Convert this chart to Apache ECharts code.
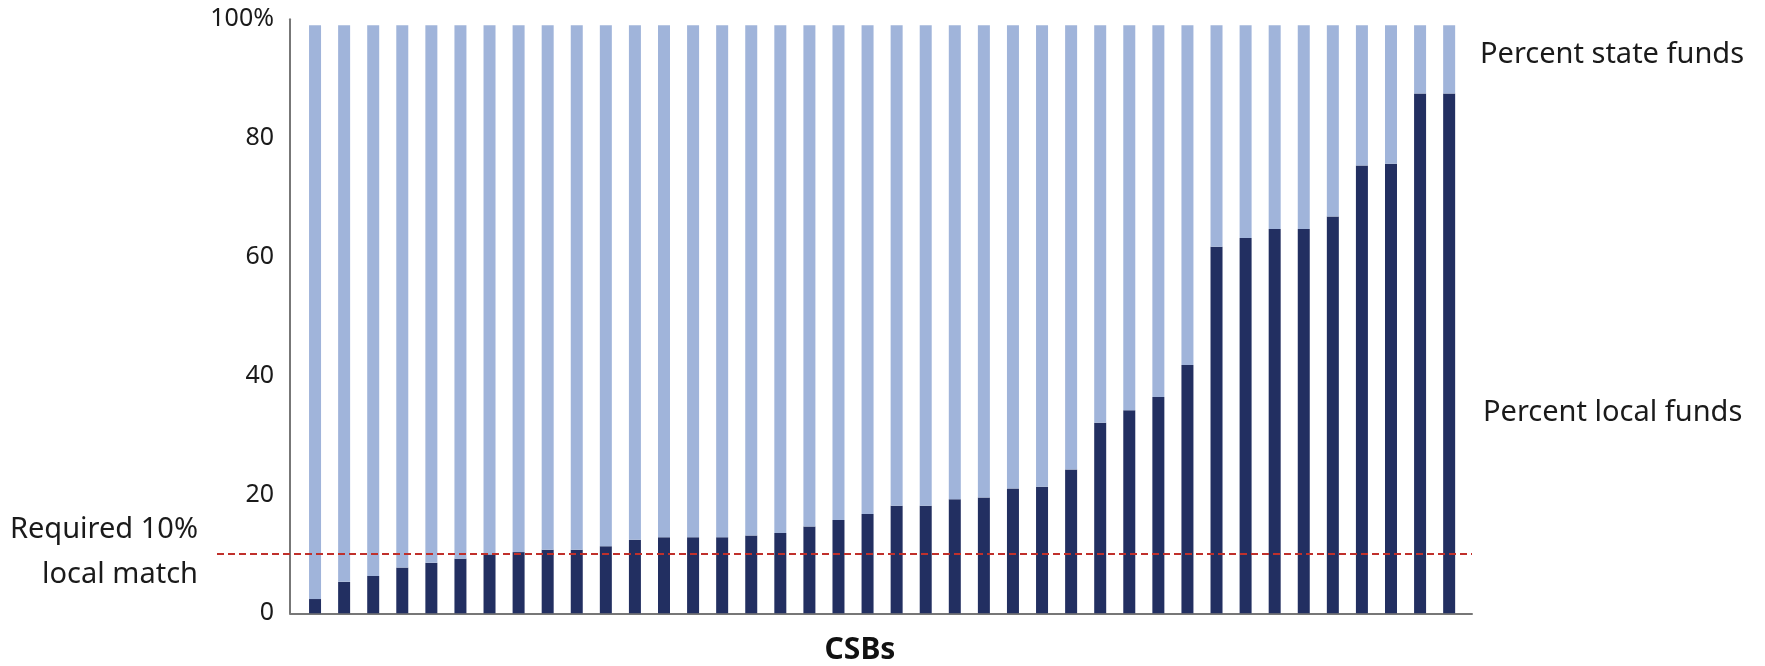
<!DOCTYPE html>
<html>
<head>
<meta charset="utf-8">
<script src="https://cdn.jsdelivr.net/npm/echarts@6/dist/echarts.min.js"></script>
<style>
html,body{margin:0;padding:0;background:#fff;}
#chart{width:1765px;height:666px;}
</style>
</head>
<body>
<div id="chart"></div>
<script>
const categories = Array.from({length: 40}, (_, i) => 'CSB ' + (i + 1));
const localFunds = [2.4, 5.3, 6.3, 7.7, 8.5, 9.2, 9.9, 10.3, 10.7, 10.7, 11.3, 12.4, 12.8, 12.8, 12.8, 13.1, 13.5, 14.6, 15.7, 16.7, 18.1, 18.1, 19.2, 19.5, 21.0, 21.3, 24.2, 32.1, 34.2, 36.4, 41.8, 61.7, 63.2, 64.7, 64.7, 66.8, 75.4, 75.7, 87.5, 87.5];
const stateFunds = [96.6, 93.7, 92.7, 91.3, 90.5, 89.8, 89.1, 88.7, 88.3, 88.3, 87.7, 86.6, 86.2, 86.2, 86.2, 85.9, 85.5, 84.4, 83.3, 82.3, 80.9, 80.9, 79.8, 79.5, 78.0, 77.7, 74.8, 66.9, 64.8, 62.6, 57.2, 37.3, 35.8, 34.3, 34.3, 32.2, 23.6, 23.3, 11.5, 11.5];
const requiredMatch = 10;
const yTicks = [0, 20, 40, 60, 80, 100];

const FONT = '"Noto Sans", "Open Sans", sans-serif';
const chart = echarts.init(document.getElementById('chart'), null, {renderer: 'canvas'});

const option = {
  animation: false,
  backgroundColor: '#ffffff',
  grid: [
    {left: 300.5, width: 1163.2, top: 19.3, height: 594},
    {left: 290, width: 1182, top: 19.3, height: 594},
    {left: 217, width: 1255, top: 19.3, height: 594}
  ],
  xAxis: [
    {gridIndex: 0, type: 'category', data: categories, show: false},
    {gridIndex: 1, type: 'value', min: 0, max: 1,
      axisLine: {show: true, lineStyle: {color: '#777777', width: 2}},
      axisTick: {show: false}, axisLabel: {show: false}, splitLine: {show: false}},
    {gridIndex: 2, type: 'value', min: 0, max: 1, show: false}
  ],
  yAxis: [
    {gridIndex: 0, type: 'value', min: 0, max: 100, show: false},
    {gridIndex: 1, type: 'value', min: yTicks[0], max: yTicks[yTicks.length - 1], interval: 20,
      axisLine: {show: true, lineStyle: {color: '#777777', width: 2}},
      axisTick: {show: false}, splitLine: {show: false},
      axisLabel: {
        margin: 16, fontFamily: FONT, fontSize: 25, color: '#1a1a1a',
        formatter: v => (v === 100 ? v + '%' : String(v))
      }},
    {gridIndex: 2, type: 'value', min: 0, max: 100, show: false}
  ],
  series: [
    {name: 'Percent local funds', type: 'bar', stack: 'total', xAxisIndex: 0, yAxisIndex: 0,
      data: localFunds, barWidth: 12,
      itemStyle: {color: '#222f61'}},
    {name: 'Percent state funds', type: 'bar', stack: 'total', xAxisIndex: 0, yAxisIndex: 0,
      data: stateFunds, barWidth: 12,
      itemStyle: {color: '#a0b4da'}},
    {name: 'Required 10% local match', type: 'line', xAxisIndex: 2, yAxisIndex: 2,
      data: [[0, requiredMatch], [1, requiredMatch]], symbol: 'none', z: 5,
      lineStyle: {color: '#c0302b', width: 2, type: [7, 4]}}
  ],
  graphic: [
    {type: 'text', x: 1480, y: 55, style: {text: 'Percent state funds', font: '29px ' + FONT, fill: '#1a1a1a', textVerticalAlign: 'middle'}},
    {type: 'text', x: 1483, y: 413, style: {text: 'Percent local funds', font: '29px ' + FONT, fill: '#1a1a1a', textVerticalAlign: 'middle'}},
    {type: 'text', x: 198, y: 530, style: {text: 'Required 10%', font: '29px ' + FONT, fill: '#1a1a1a', textAlign: 'right', textVerticalAlign: 'middle'}},
    {type: 'text', x: 198, y: 575, style: {text: 'local match', font: '29px ' + FONT, fill: '#1a1a1a', textAlign: 'right', textVerticalAlign: 'middle'}},
    {type: 'text', x: 860, y: 650, style: {text: 'CSBs', font: 'bold 30px ' + FONT, fill: '#111111', textAlign: 'center', textVerticalAlign: 'middle'}}
  ]
};
chart.setOption(option);
</script>
</body>
</html>
